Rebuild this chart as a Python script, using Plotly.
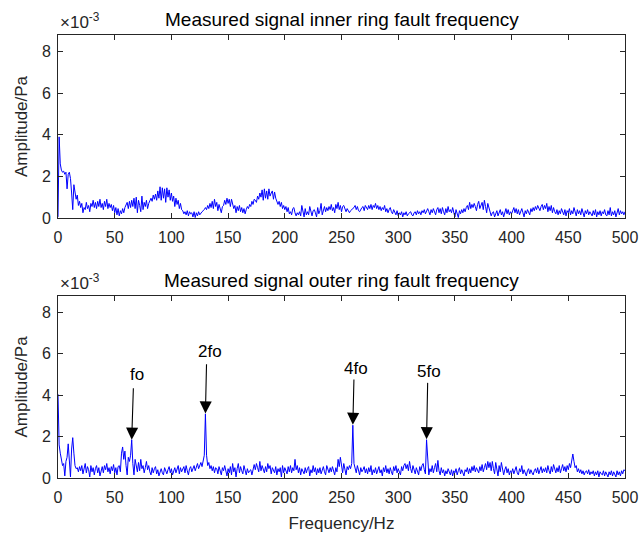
import plotly.graph_objects as go

freq = list(range(0, 501))

inner_amp = [
    0.05, 3.9, 2.6, 2.3, 2.2, 2.25, 2.1, 2.2, 1.4, 2.1,
    2.2, 1.9, 1.2, 0.4, 1.6, 1.3, 0.9, 1.1, 0.6, 0.8,
    0.5, 0.7, 0.25, 0.5, 0.4, 0.75, 0.45, 0.6, 0.3, 0.7,
    0.55, 0.85, 0.5, 0.75, 0.45, 0.8, 0.55, 0.9, 0.5, 0.7,
    0.4, 0.8, 0.55, 0.9, 0.45, 0.7, 0.5, 0.65, 0.35, 0.6,
    0.25, 0.5, 0.15, 0.45, 0.1, 0.35, 0.2, 0.45, 0.25, 0.5,
    0.6, 0.75, 0.45, 0.8, 0.5, 0.85, 0.55, 0.95, 0.45, 1.0,
    0.25, 0.85, 0.6, 0.3, 1.05, 0.4, 0.75, 0.55, 0.85, 0.45,
    0.7, 0.8, 0.95, 0.8, 1.1, 0.9, 1.15, 0.85, 1.3, 0.95,
    1.5, 0.85, 1.45, 0.95, 1.4, 0.75, 1.45, 1.0, 1.35, 0.85,
    1.2, 0.8, 1.05, 0.55, 0.95, 0.65, 0.85, 0.45, 0.7, 0.4,
    0.35, 0.2, 0.3, 0.15, 0.35, 0.1, 0.3, 0.2, 0.25, 0.05,
    0.3, 0.02, 0.25, 0.1, 0.3, 0.15, 0.25, 0.3, 0.35, 0.4,
    0.5, 0.4, 0.6, 0.45, 0.7, 0.5, 0.8, 0.45, 0.9, 0.55,
    0.75, 0.35, 0.65, 0.45, 0.25, 0.55, 0.6, 0.85, 0.65, 0.95,
    0.7, 0.9, 0.55, 0.9, 0.65, 0.45, 0.6, 0.25, 0.55, 0.35,
    0.6, 0.3, 0.5, 0.25, 0.45, 0.2, 0.4, 0.55, 0.45, 0.65,
    0.55, 0.8, 0.65, 0.9, 0.85, 0.75, 1.05, 0.9, 1.2, 1.0,
    1.35, 0.85, 1.4, 0.95, 1.3, 0.9, 1.4, 1.05, 1.2, 1.3,
    0.9, 1.25, 0.95, 0.8, 0.65, 0.8, 0.55, 0.75, 0.45, 0.6,
    0.4, 0.55, 0.3, 0.5, 0.2, 0.3, 0.15, 0.45, 0.5, 0.25,
    0.1, 0.25, 0.15, 0.3, 0.1, 0.6, 0.2, 0.05, 0.45, 0.15,
    0.3, 0.15, 0.55, 0.25, 0.1, 0.35, 0.4, 0.25, 0.05, 0.5,
    0.2, 0.35, 0.7, 0.15, 0.45, 0.55, 0.3, 0.5, 0.35, 0.55,
    0.4, 0.65, 0.35, 0.5, 0.25, 0.65, 0.45, 0.75, 0.4, 0.6,
    0.3, 0.55, 0.6, 0.45, 0.3, 0.45, 0.35, 0.25, 0.35, 0.4,
    0.45, 0.5, 0.6, 0.4, 0.55, 0.35, 0.3, 0.45, 0.5, 0.55,
    0.35, 0.6, 0.5, 0.4, 0.6, 0.45, 0.65, 0.4, 0.6, 0.5,
    0.7, 0.45, 0.6, 0.4, 0.55, 0.35, 0.5, 0.4, 0.6, 0.3,
    0.45, 0.25, 0.4, 0.5, 0.3, 0.2, 0.4, 0.25, 0.15, 0.35,
    0.1, 0.25, 0.15, 0.3, 0.05, 0.25, 0.15, 0.3, 0.1, 0.2,
    0.25, 0.3, 0.15, 0.1, 0.25, 0.3, 0.15, 0.35, 0.2, 0.3,
    0.15, 0.35, 0.25, 0.4, 0.2, 0.3, 0.45, 0.3, 0.15, 0.4,
    0.25, 0.45, 0.3, 0.15, 0.4, 0.5, 0.25, 0.45, 0.2, 0.5,
    0.3, 0.15, 0.45, 0.25, 0.55, 0.3, 0.4, 0.25, 0.5, 0.2,
    0.05, 0.4, 0.25, 0.02, 0.35, 0.2, 0.4, 0.25, 0.45, 0.3,
    0.5, 0.6, 0.4, 0.75, 0.45, 0.65, 0.5, 0.7, 0.55, 0.35,
    0.65, 0.8, 0.45, 0.6, 0.75, 0.4, 0.85, 0.55, 0.25, 0.7,
    0.5, 0.3, 0.1, 0.25, 0.3, 0.05, 0.2, 0.35, 0.1, 0.3,
    0.4, 0.15, 0.3, 0.05, 0.35, 0.45, 0.2, 0.4, 0.15, 0.3,
    0.2, 0.35, 0.5, 0.25, 0.45, 0.2, 0.4, 0.15, 0.35, 0.45,
    0.25, 0.05, 0.35, 0.2, 0.4, 0.25, 0.15, 0.45, 0.3, 0.5,
    0.35, 0.55, 0.4, 0.6, 0.45, 0.35, 0.55, 0.65, 0.4, 0.6,
    0.45, 0.7, 0.3, 0.55, 0.35, 0.6, 0.25, 0.5, 0.3, 0.2,
    0.4, 0.15, 0.35, 0.2, 0.45, 0.25, 0.15, 0.4, 0.1, 0.35,
    0.25, 0.45, 0.15, 0.35, 0.2, 0.5, 0.25, 0.1, 0.4, 0.2,
    0.35, 0.15, 0.45, 0.25, 0.05, 0.35, 0.2, 0.4, 0.15, 0.3,
    0.2, 0.1, 0.35, 0.15, 0.4, 0.05, 0.3, 0.15, 0.35, 0.1,
    0.3, 0.2, 0.4, 0.15, 0.1, 0.35, 0.15, 0.5, 0.1, 0.3,
    0.15, 0.35, 0.05, 0.3, 0.45, 0.15, 0.35, 0.2, 0.3, 0.15,
    0.3,
]

outer_amp = [
    4.05, 1.6, 1.2, 0.8, 0.6, 0.7, 0.1, 0.8, 1.0, 1.65,
    0.8, 0.05, 1.4, 1.95, 1.2, 0.6, 0.45, 0.5, 0.3, 0.55,
    0.35, 0.6, 0.2, 0.5, 0.7, 0.25, 0.55, 0.4, 0.05, 0.6,
    0.3, 0.5, 0.15, 0.45, 0.6, 0.25, 0.5, 0.1, 0.4, 0.55,
    0.25, 0.6, 0.4, 0.7, 0.3, 0.5, 0.2, 0.55, 0.35, 0.65,
    0.25, 0.5, 0.15, 0.55, 0.6, 0.3, 1.2, 1.5, 0.9, 1.3,
    0.6, 0.15, 1.0, 0.8, 1.1, 1.85, 0.7, 0.15, 0.9, 0.45,
    0.3, 0.75, 0.35, 0.9, 0.45, 0.6, 0.25, 0.5, 0.8, 0.4,
    0.6, 0.3, 0.15, 0.5, 0.25, 0.45, 0.55, 0.2, 0.4, 0.1,
    0.35, 0.45, 0.25, 0.15, 0.5, 0.3, 0.2, 0.4, 0.55, 0.25,
    0.45, 0.15, 0.35, 0.5, 0.25, 0.45, 0.6, 0.2, 0.5, 0.3,
    0.4, 0.55, 0.25, 0.6, 0.35, 0.15, 0.45, 0.55, 0.3, 0.5,
    0.6, 0.35, 0.55, 0.7, 0.45, 0.65, 0.75, 0.55, 0.8, 1.1,
    3.1, 1.1, 0.6, 0.75, 0.45, 0.6, 0.35, 0.55, 0.25, 0.5,
    0.45, 0.2, 0.55, 0.3, 0.15, 0.5, 0.35, 0.6, 0.25, 0.1,
    0.45, 0.25, 0.55, 0.15, 0.7, 0.3, 0.5, 0.05, 0.45, 0.7,
    0.25, 0.55, 0.35, 0.2, 0.6, 0.3, 0.15, 0.45, 0.25, 0.35,
    0.4, 0.15, 0.5, 0.65, 0.4, 0.7, 0.5, 0.3, 0.8, 0.35,
    0.6, 0.4, 0.25, 0.55, 0.3, 0.7, 0.45, 0.6, 0.2, 0.5,
    0.35, 0.25, 0.55, 0.15, 0.45, 0.3, 0.5, 0.05, 0.6, 0.25,
    0.5, 0.35, 0.2, 0.55, 0.3, 0.6, 0.25, 0.5, 0.35, 0.9,
    0.4, 0.6, 0.25, 0.5, 0.15, 0.45, 0.3, 0.2, 0.5, 0.25,
    0.45, 0.55, 0.1, 0.4, 0.25, 0.6, 0.3, 0.5, 0.15, 0.45,
    0.25, 0.5, 0.2, 0.4, 0.55, 0.3, 0.15, 0.6, 0.4, 0.25,
    0.5, 0.3, 0.55, 0.35, 0.15, 0.5, 0.3, 0.9, 0.55, 1.0,
    0.45, 0.25, 0.7, 0.35, 0.15, 0.55, 0.4, 0.6, 0.45, 0.7,
    2.55, 0.7, 0.45, 0.25, 0.6, 0.4, 0.15, 0.5, 0.3, 0.4,
    0.55, 0.25, 0.45, 0.2, 0.5, 0.3, 0.6, 0.15, 0.4, 0.25,
    0.5, 0.2, 0.45, 0.55, 0.25, 0.4, 0.1, 0.5, 0.3, 0.6,
    0.25, 0.45, 0.2, 0.5, 0.3, 0.15, 0.55, 0.35, 0.6, 0.25,
    0.45, 0.3, 0.15, 0.55, 0.35, 0.6, 0.7, 0.45, 0.65, 0.35,
    0.8, 0.45, 0.25, 0.6, 0.4, 0.2, 0.5, 0.3, 0.15, 0.55,
    0.35, 0.6, 0.7, 0.4, 0.2, 1.85, 0.6, 0.15, 0.45, 0.3,
    0.6, 0.25, 0.5, 0.7, 0.3, 0.85, 0.35, 0.15, 0.5, 0.25,
    0.4, 0.1, 0.35, 0.2, 0.45, 0.25, 0.15, 0.4, 0.1, 0.35,
    0.25, 0.45, 0.15, 0.35, 0.5, 0.2, 0.4, 0.25, 0.1, 0.4,
    0.3, 0.5, 0.2, 0.45, 0.25, 0.55, 0.35, 0.6, 0.3, 0.5,
    0.4, 0.25, 0.55, 0.35, 0.65, 0.3, 0.5, 0.7, 0.4, 0.8,
    0.5, 0.75, 0.35, 0.8, 0.45, 0.2, 0.75, 0.4, 0.1, 0.6,
    0.3, 0.75, 0.45, 0.15, 0.4, 0.55, 0.25, 0.45, 0.15, 0.35,
    0.25, 0.45, 0.2, 0.4, 0.55, 0.25, 0.15, 0.45, 0.3, 0.6,
    0.2, 0.4, 0.25, 0.1, 0.35, 0.45, 0.2, 0.4, 0.25, 0.15,
    0.35, 0.45, 0.25, 0.5, 0.2, 0.4, 0.55, 0.25, 0.45, 0.3,
    0.5, 0.25, 0.6, 0.35, 0.2, 0.55, 0.3, 0.65, 0.4, 0.25,
    0.5, 0.3, 0.6, 0.25, 0.45, 0.65, 0.35, 0.55, 0.3, 0.6,
    0.4, 0.7, 0.5, 0.75, 1.16, 0.8, 0.5, 0.6, 0.3, 0.45,
    0.25, 0.4, 0.2, 0.35, 0.15, 0.3, 0.35, 0.2, 0.4, 0.15,
    0.3, 0.2, 0.35, 0.1, 0.3, 0.15, 0.35, 0.05, 0.3, 0.2,
    0.15, 0.35, 0.1, 0.3, 0.2, 0.05, 0.3, 0.15, 0.35, 0.1,
    0.3, 0.2, 0.05, 0.35, 0.15, 0.3, 0.1, 0.35, 0.2, 0.4,
    0.35,
]

x_ticks = [0, 50, 100, 150, 200, 250, 300, 350, 400, 450, 500]
y_ticks = [0, 2, 4, 6, 8]

# peak annotations: label, label pos (f, amp), arrow tail (f, amp), arrow head (f, amp)
peak_labels = ["fo", "2fo", "4fo", "5fo"]
label_x = [69.5, 134, 263, 327]
label_y = [4.98, 6.09, 5.31, 5.13]
tail_x = [66.5, 131, 261, 326]
tail_y = [4.41, 5.57, 4.83, 4.67]
head_x = [65, 130, 260, 325]
head_y = [1.85, 3.12, 2.57, 1.87]

FONT = "Liberation Sans, Arial, Helvetica, sans-serif"
AX = "#262626"

fig = go.Figure()
fig.add_trace(go.Scatter(x=freq, y=inner_amp, mode="lines",
                         line=dict(color="#0000ff", width=1),
                         xaxis="x", yaxis="y", showlegend=False))
fig.add_trace(go.Scatter(x=freq, y=outer_amp, mode="lines",
                         line=dict(color="#0000ff", width=1),
                         xaxis="x2", yaxis="y2", showlegend=False))

axis_common = dict(showline=True, linecolor=AX, linewidth=1, mirror="ticks",
                   ticks="inside", ticklen=5, tickcolor=AX, showgrid=False,
                   zeroline=False, automargin=False,
                   tickfont=dict(family=FONT, size=16, color=AX))

xt = dict(ticklabelstandoff=5)
yt = dict(ticklabelstandoff=3)
ytitle = dict(text="Amplitude/Pa", font=dict(family=FONT, size=17, color=AX), standoff=9)

fig.update_layout(
    width=641, height=533,
    margin=dict(l=58, r=16, t=35, b=55),
    paper_bgcolor="white", plot_bgcolor="white",
    font=dict(family=FONT, color=AX),
    xaxis=dict(domain=[0, 1], range=[0, 500], tickvals=x_ticks, anchor="y", **xt, **axis_common),
    yaxis=dict(domain=[0.587, 1], range=[0, 8.8], tickvals=y_ticks, anchor="x",
               title=ytitle, **yt, **axis_common),
    xaxis2=dict(domain=[0, 1], range=[0, 500], tickvals=x_ticks, anchor="y2",
                title=dict(text="Frequency/Hz", font=dict(family=FONT, size=17, color=AX), standoff=12),
                **xt, **axis_common),
    yaxis2=dict(domain=[0, 0.411], range=[0, 8.8], tickvals=y_ticks, anchor="x2",
                title=ytitle, **yt, **axis_common),
)

titles = [("Measured signal inner ring fault frequency", "x domain", "y domain"),
          ("Measured signal outer ring fault frequency", "x2 domain", "y2 domain")]
for t, xr, yr in titles:
    fig.add_annotation(text=t, xref=xr, yref=yr, x=0.5, y=1, xanchor="center",
                       yanchor="bottom", yshift=3, showarrow=False,
                       font=dict(family=FONT, size=19, color="#000000"))
    fig.add_annotation(text="×10<sup>-3</sup>", xref=xr, yref=yr, x=0, y=1,
                       xanchor="left", yanchor="bottom", yshift=1, showarrow=False,
                       font=dict(family=FONT, size=17, color=AX))

for lab, lx, ly, tx, ty, hx, hy in zip(peak_labels, label_x, label_y, tail_x, tail_y, head_x, head_y):
    fig.add_annotation(x=hx, y=hy, ax=tx, ay=ty, xref="x2", yref="y2",
                       axref="x2", ayref="y2", text="", showarrow=True,
                       arrowhead=2, arrowsize=2.2, arrowwidth=1.1, arrowcolor="#000000")
    fig.add_annotation(x=lx, y=ly, xref="x2", yref="y2", text=lab, showarrow=False,
                       xanchor="center", yanchor="middle",
                       font=dict(family=FONT, size=17, color="#000000"))

fig.write_html("out.html")
